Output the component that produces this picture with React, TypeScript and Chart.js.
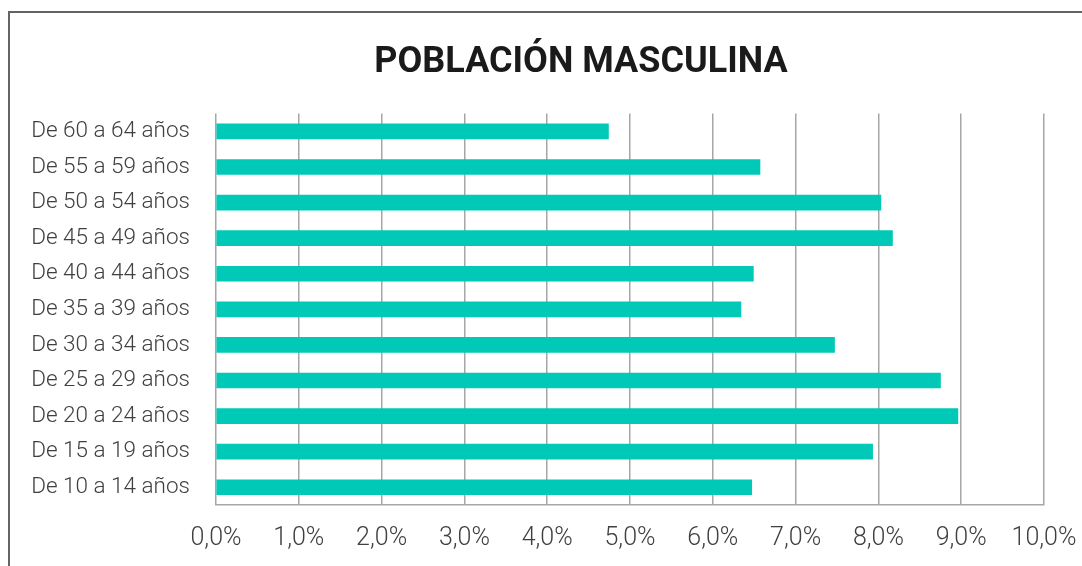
import React, { useEffect, useRef } from "react";
import { Chart, registerables } from "chart.js";

Chart.register(...registerables);

const categories = [
  "De 60 a 64 años",
  "De 55 a 59 años",
  "De 50 a 54 años",
  "De 45 a 49 años",
  "De 40 a 44 años",
  "De 35 a 39 años",
  "De 30 a 34 años",
  "De 25 a 29 años",
  "De 20 a 24 años",
  "De 15 a 19 años",
  "De 10 a 14 años",
];

const values = [4.74, 6.57, 8.03, 8.17, 6.49, 6.34, 7.47, 8.75, 8.96, 7.93, 6.47];

const xMin = 0;
const xMax = 10;
const xStep = 1;

const titleText = "POBLACIÓN MASCULINA";

export default function App() {
  const ref = useRef<HTMLCanvasElement | null>(null);

  useEffect(() => {
    if (!ref.current) return;
    const chart = new Chart(ref.current, {
      type: "bar",
      data: {
        labels: categories,
        datasets: [
          {
            data: values,
            backgroundColor: "#00C9B7",
            borderWidth: 0,
            barThickness: 15,
          },
        ],
      },
      options: {
        indexAxis: "y",
        animation: false,
        responsive: false,
        maintainAspectRatio: false,
        layout: { padding: { left: 0, right: 0, top: 0, bottom: 40 } },
        plugins: {
          legend: { display: false },
          tooltip: { enabled: false },
          title: {
            display: true,
            text: titleText,
            color: "#1a1a1a",
            font: { family: "Roboto", size: 36, weight: "bold" },
            padding: { top: 28.4, bottom: 29 },
          },
        },
        scales: {
          x: {
            type: "linear",
            min: xMin,
            max: xMax,
            ticks: {
              stepSize: xStep,
              color: "#404040",
              padding: 19,
              font: { family: "Roboto", size: 25, weight: "300" },
              callback: (v: any) => Number(v).toFixed(1).replace(".", ",") + "%",
            },
            grid: {
              display: true,
              color: "#A6A6A6",
              lineWidth: 1.5,
              drawTicks: false,
            },
            border: { display: true, color: "#A6A6A6", width: 1.5 },
          },
          y: {
            type: "category",
            ticks: {
              color: "#404040",
              padding: 26,
              font: { family: "Roboto", size: 22.5, weight: "300" },
            },
            grid: { display: false, drawTicks: false },
            border: { display: false },
            afterFit: (scale: any) => {
              scale.width = 206;
            },
          },
          yRight: {
            type: "category",
            position: "right",
            display: true,
            ticks: { display: false },
            grid: { display: false, drawTicks: false },
            border: { display: false },
            afterFit: (scale: any) => {
              scale.width = 108;
            },
          },
        },
      },
    });
    return () => chart.destroy();
  }, []);

  return (
    <div
      style={{
        position: "fixed",
        left: 0,
        top: 0,
        width: 1082,
        height: 566,
        overflow: "hidden",
        background: "#fff",
      }}
    >
      <div
        style={{
          position: "absolute",
          left: 8,
          top: 11,
          width: 1142,
          height: 700,
          border: "2px solid #646464",
          background: "#fff",
        }}
      >
        <canvas
          ref={ref}
          width={1142}
          height={600}
          style={{ display: "block", width: 1142, height: 600 }}
        />
      </div>
    </div>
  );
}
